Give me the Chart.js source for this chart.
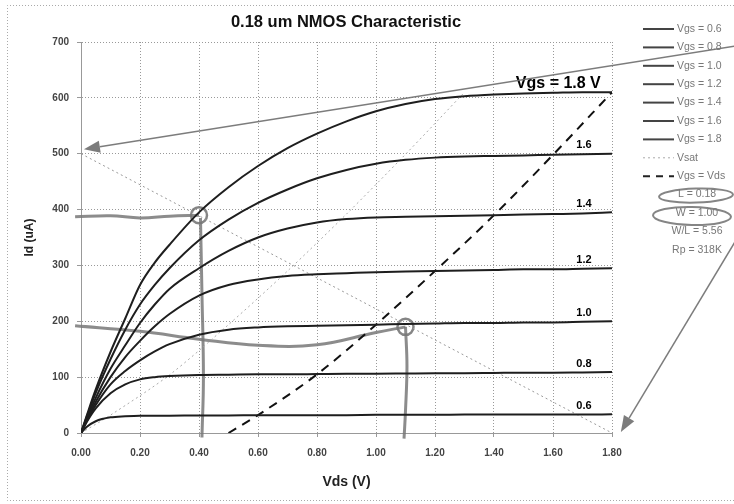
<!DOCTYPE html>
<html><head><meta charset="utf-8">
<script src="https://cdn.jsdelivr.net/npm/chart.js@4/dist/chart.umd.min.js"></script>
<style>html,body{margin:0;padding:0;background:#fff}#wrap{width:734px;height:504px;position:relative}</style>
</head><body><div id="wrap"><canvas id="c"></canvas></div>
<script>
// ---- data ----
const vds   = [0,0.02,0.05,0.1,0.15,0.2,0.25,0.3,0.4,0.5,0.6,0.7,0.8,0.9,1.0,1.1,1.2,1.3,1.4,1.5,1.6,1.7,1.8];
const id_06 = [0,11,21,28,30,31,31,31,31.5,31.5,32,32,32,32,32.5,32.5,32.5,33,33,33,33,33,33.5];
const id_08 = [0,20,44,71,87,96,100,102,104,104.5,105,105,105.5,106,106,106.5,107,107,107.5,108,108,108.5,109];
const id_10 = [0,22,50,87,111,130,146,159,176,185,189,191,192,193,194,195,196,197,197,198,198,199,200];
const id_12 = [0,24,56,100,136,165,191,213,246,265,275,281,284,286,288,289,290,291,292,293,293,294,295];
const id_14 = [0,27,63,115,157,197,230,258,295,326,350,366,377,383,386,387,388,389,390,391,392,393,395];
const id_16 = [0,30,72,132,185,230,265,295,345,382,412,436,456,471,482,489,493,495,496,497,498,499,500];
const id_18 = [0,32,78,145,205,265,305,337,395,440,478,510,536,558,576,589,598,603,606,608,609,610,610];
const vgsValues = ['0.6','0.8','1.0','1.2','1.4','1.6','1.8'];
const vsatX = [0,0.1,0.3,0.5,0.7,0.9,1.1,1.3];
const vsatY = [0,32,104,194,290,392,499,610];
const diagX = [0.5,0.6,0.8,1.0,1.2,1.4,1.6,1.8];
const diagY = [0,32,105,194,290,390,498,610];
const loadX = [0,1.8];
const loadY = [500,0];
const yTickLabels = ['0','100','200','300','400','500','600','700'];
const xTickLabels = ['0.00','0.20','0.40','0.60','0.80','1.00','1.20','1.40','1.60','1.80'];
const legendExtra = ['L = 0.18','W = 1.00','W/L = 5.56','Rp = 318K'];
// hand-drawn annotations (data units)
const hand1X = [-0.02,0.1,0.2,0.3,0.4];
const hand1Y = [387,389,385,388,390];
const vert1X = [0.405,0.41,0.415,0.41];
const vert1Y = [385,250,100,-8];
const hand2X = [-0.02,0.2,0.4,0.6,0.8,1.0,1.1];
const hand2Y = [192,182,168,157,158,180,190];
const vert2X = [1.1,1.105,1.1,1.095];
const vert2Y = [190,120,40,-10];
const circX = [0.4,1.1];
const circY = [390,190];
const arrow1 = [[2.22,693],[0.01,508]];
const arrow2 = [[2.22,345],[1.83,2]];

const pts = (xs, ys) => xs.map((v,i)=>({x:v,y:ys[i]}));
const curves = [id_06,id_08,id_10,id_12,id_14,id_16,id_18];
const FONT = '"Liberation Sans", Arial, sans-serif';

const datasets = curves.map((c,i)=>({
  label:'Vgs = '+vgsValues[i], data:pts(vds,c), showLine:true, borderColor:'#1e1e1e',
  borderWidth:2, pointRadius:0, cubicInterpolationMode:'monotone', fill:false
}));
datasets.push({label:'Vsat', data:pts(vsatX,vsatY), showLine:true, borderColor:'#aaa', borderWidth:1, borderDash:[2,3], pointRadius:0, tension:0.3});
datasets.push({label:'Vgs = Vds', data:pts(diagX,diagY), showLine:true, borderColor:'#111', borderWidth:2, borderDash:[9,7], pointRadius:0, cubicInterpolationMode:'monotone'});
datasets.push({label:'load', data:pts(loadX,loadY), showLine:true, borderColor:'#999', borderWidth:1, borderDash:[2,3], pointRadius:0});
const handStyle = {showLine:true, borderColor:'rgba(120,120,120,0.85)', borderWidth:3, pointRadius:0, tension:0.4, clip:false};
datasets.push(Object.assign({label:'h1', data:pts(hand1X,hand1Y)}, handStyle));
datasets.push(Object.assign({label:'v1', data:pts(vert1X,vert1Y)}, handStyle));
datasets.push(Object.assign({label:'h2', data:pts(hand2X,hand2Y)}, handStyle));
datasets.push(Object.assign({label:'v2', data:pts(vert2X,vert2Y)}, handStyle));
datasets.push({label:'circ', data:pts(circX,circY), showLine:false, pointRadius:8, pointBorderWidth:2.5, pointBorderColor:'rgba(120,120,120,0.9)', pointBackgroundColor:'rgba(0,0,0,0)'});

const deco = {
  id:'deco',
  afterDatasetsDraw(chart){
    const {ctx, scales:{x,y}} = chart;
    ctx.save();
    // curve labels
    ctx.fillStyle = '#000';
    ctx.textAlign = 'center';
    ctx.textBaseline = 'bottom';
    ctx.font = 'bold 11px '+FONT;
    for (let i=0;i<6;i++){
      const c = curves[i];
      ctx.fillText(vgsValues[i], x.getPixelForValue(1.705), y.getPixelForValue(c[c.length-1]) - 3);
    }
    ctx.font = 'bold 16px '+FONT;
    ctx.textBaseline = 'middle';
    ctx.fillText('Vgs = '+vgsValues[6]+' V', x.getPixelForValue(1.618), y.getPixelForValue(id_18[id_18.length-1]) - 9);
    // arrows
    ctx.strokeStyle = 'rgba(110,110,110,0.9)';
    ctx.fillStyle = 'rgba(110,110,110,0.9)';
    ctx.lineWidth = 1.5;
    for (const a of [arrow1, arrow2]){
      const x0 = x.getPixelForValue(a[0][0]), y0 = y.getPixelForValue(a[0][1]);
      const x1 = x.getPixelForValue(a[1][0]), y1 = y.getPixelForValue(a[1][1]);
      const ang = Math.atan2(y1-y0, x1-x0);
      const L = 16, W = 6;
      const bx = x1 - L*Math.cos(ang), by = y1 - L*Math.sin(ang);
      ctx.beginPath(); ctx.moveTo(x0,y0); ctx.lineTo(bx,by); ctx.stroke();
      ctx.beginPath();
      ctx.moveTo(x1,y1);
      ctx.lineTo(bx + W*Math.sin(ang), by - W*Math.cos(ang));
      ctx.lineTo(bx - W*Math.sin(ang), by + W*Math.cos(ang));
      ctx.closePath(); ctx.fill();
    }
    ctx.restore();
  },
  afterDraw(chart){
    const {ctx} = chart;
    ctx.save();
    // outer dotted frame
    ctx.strokeStyle = '#aaa'; ctx.lineWidth = 1; ctx.setLineDash([1,2]);
    ctx.beginPath(); ctx.moveTo(740,5.5); ctx.lineTo(7.5,5.5); ctx.lineTo(7.5,500.5); ctx.lineTo(740,500.5); ctx.stroke();
    ctx.setLineDash([]);
    // title
    ctx.fillStyle = '#111'; ctx.textAlign = 'center'; ctx.textBaseline = 'middle';
    ctx.font = 'bold 16.5px '+FONT;
    ctx.fillText('0.18 um NMOS Characteristic', 346, 22);
    // legend
    const lx0 = 643, lx1 = 674, tx = 677;
    ctx.font = '10.5px '+FONT;
    const names = vgsValues.map(v=>'Vgs = '+v).concat(['Vsat','Vgs = Vds']).concat(legendExtra);
    names.forEach((n,i)=>{
      const yy = 29 + i*18.4;
      ctx.fillStyle = '#777';
      if (i>=9){ ctx.textAlign='center'; ctx.fillText(n, 697, yy); }
      else { ctx.textAlign='left'; ctx.fillText(n, tx, yy); }
      if (i<9){
        ctx.beginPath();
        if (i<7){ ctx.strokeStyle='#444'; ctx.lineWidth=2; ctx.setLineDash([]); }
        else if (i===7){ ctx.strokeStyle='#aaa'; ctx.lineWidth=1; ctx.setLineDash([2,3]); }
        else { ctx.strokeStyle='#222'; ctx.lineWidth=2; ctx.setLineDash([7,6]); }
        ctx.moveTo(lx0,yy); ctx.lineTo(lx1,yy); ctx.stroke(); ctx.setLineDash([]);
      }
    });
    // ellipses around L and W
    ctx.strokeStyle = 'rgba(120,120,120,0.9)'; ctx.lineWidth = 2;
    ctx.beginPath(); ctx.ellipse(696, 29+9*18.4+1, 37, 7, -0.03, 0, Math.PI*2); ctx.stroke();
    ctx.beginPath(); ctx.ellipse(692, 29+10*18.4+3, 39, 9, 0.02, 0, Math.PI*2); ctx.stroke();
    ctx.restore();
  }
};

new Chart(document.getElementById('c'), {
  type:'scatter',
  data:{datasets},
  options:{
    responsive:true, maintainAspectRatio:false, animation:false,
    layout:{padding:{top:42,right:122,left:0,bottom:0}},
    plugins:{legend:{display:false}, title:{display:false}, tooltip:{enabled:false}},
    scales:{
      x:{type:'linear', min:0, max:1.8,
        afterFit:s=>{s.height=71;},
        afterBuildTicks:s=>{s.ticks = xTickLabels.map(t=>({value:parseFloat(t)}));},
        ticks:{font:{family:FONT,size:10,weight:'bold'}, color:'#444', padding:10, maxRotation:0, autoSkip:false,
          callback:(v,i)=>xTickLabels[i]},
        grid:{color:'#999', tickLength:4, drawTicks:true},
        border:{dash:[1,2], color:'#999'},
        title:{display:true, text:'Vds (V)', font:{family:FONT,size:14,weight:'bold'}, color:'#222', padding:{top:0,bottom:13.6}}
      },
      y:{type:'linear', min:0, max:700,
        afterFit:s=>{s.width=81;},
        afterBuildTicks:s=>{s.ticks = yTickLabels.map(t=>({value:parseFloat(t)}));},
        ticks:{font:{family:FONT,size:10,weight:'bold'}, color:'#444', padding:8, autoSkip:false,
          callback:(v,i)=>yTickLabels[i]},
        grid:{color:'#999', tickLength:4},
        border:{dash:[1,2], color:'#999'},
        title:{display:true, text:'Id (uA)', font:{family:FONT,size:12,weight:'bold'}, color:'#222', padding:{top:22.8,bottom:0}}
      }
    }
  },
  plugins:[deco]
});
</script></body></html>
